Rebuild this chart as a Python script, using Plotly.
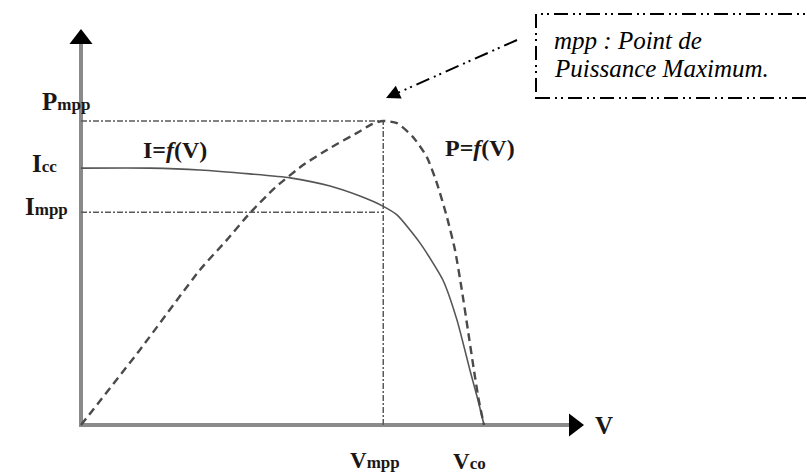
import plotly.graph_objects as go

# --- data (arbitrary units) ---
# I = f(V), solid curve
V_I = [0.0, 1.71, 2.95, 4.19, 5.19, 6.18, 6.92, 7.49, 7.84, 8.41, 8.98, 9.33, 9.65, 9.85, 10.0]
I_VALS = [8.45, 8.45, 8.39, 8.26, 8.13, 7.86, 7.53, 7.20, 6.91, 5.99, 4.77, 3.45, 1.81, 0.82, 0.0]

# P = f(V), dashed curve
V_P = [0.0, 1.46, 2.95, 3.62, 4.19, 4.81, 5.51, 6.18, 6.85, 7.22, 7.49, 7.84, 8.24,
       8.58, 8.83, 9.08, 9.28, 9.45, 9.60, 9.75, 9.87, 10.0]
P_VALS = [0.0, 2.47, 5.10, 6.09, 6.97, 7.80, 8.55, 9.11, 9.61, 9.90, 10.0, 9.93, 9.47,
          8.82, 7.96, 6.84, 5.76, 4.44, 3.13, 1.81, 0.82, 0.0]

V_MPP = 7.5
P_MPP = 10.0
I_MPP = 7.0


# pixel -> data helpers for decorations (plot area = whole figure)
def dx(p):
    return (p - 81) / 40.3


def dy(p):
    return (425 - p) / 30.4


INK = "#1c1714"
GREY = "#555555"
AXIS = "#8a8a8a"
SERIF = "Liberation Serif, Times New Roman, serif"

fig = go.Figure()

# axes drawn as lines with arrow heads
fig.add_trace(go.Scatter(x=[dx(79), dx(572)], y=[0, 0], mode="lines",
                         line=dict(color=AXIS, width=4), hoverinfo="skip"))
fig.add_trace(go.Scatter(x=[0, 0], y=[dy(427), dy(42)], mode="lines",
                         line=dict(color=AXIS, width=4), hoverinfo="skip"))
fig.add_trace(go.Scatter(
    x=[0], y=[dy(39)], mode="markers", hoverinfo="skip",
    marker=dict(symbol="triangle-up", size=20, color="black"),
))
fig.add_trace(go.Scatter(
    x=[dx(574)], y=[0], mode="markers", hoverinfo="skip",
    marker=dict(symbol="triangle-right", size=20, color="black"),
))

# guide lines at the maximum power point
ref = dict(color="#5a5a5a", width=1.5, dash="6px,2px,2px,2px")
fig.add_trace(go.Scatter(x=[0, V_MPP], y=[P_MPP, P_MPP], mode="lines", line=ref, hoverinfo="skip"))
fig.add_trace(go.Scatter(x=[0, V_MPP], y=[I_MPP, I_MPP], mode="lines", line=ref, hoverinfo="skip"))
fig.add_trace(go.Scatter(x=[V_MPP, V_MPP], y=[0, P_MPP], mode="lines", line=ref, hoverinfo="skip"))

# curves
fig.add_trace(go.Scatter(
    x=V_I, y=I_VALS, mode="lines", name="I=f(V)",
    line=dict(color=GREY, width=1.6, shape="spline", smoothing=0.6),
))
fig.add_trace(go.Scatter(
    x=V_P, y=P_VALS, mode="lines", name="P=f(V)",
    line=dict(color="#4a4a4a", width=2.4, dash="8px,5px", shape="spline", smoothing=0.6),
))


# text labels
def lab(text, x, y, size=25, xanchor="center", color=INK):
    fig.add_annotation(
        x=dx(x), y=dy(y), text=text, showarrow=False, xanchor=xanchor, yanchor="middle",
        font=dict(family=SERIF, size=size, color=color), borderpad=0,
    )


sub = '<span style="font-size:17px">{}</span>'
lab("<b>P" + sub.format("mpp") + "</b>", 41, 101, xanchor="left")
lab("<b>I" + sub.format("cc") + "</b>", 31, 163, xanchor="left")
lab("<b>I" + sub.format("mpp") + "</b>", 24, 206, xanchor="left")
lab("<b>I=<i>f</i>(V)</b>", 175, 150, size=24)
lab("<b>P=<i>f</i>(V)</b>", 480, 148, size=24)
lab("<b>V</b>", 604, 425, size=25)
lab("<b>V" + sub.format("mpp") + "</b>", 375, 460, size=23)
lab("<b>V" + sub.format("co") + "</b>", 469, 461, size=23)

# note box
lab("<i>mpp : Point de</i>", 553, 40, size=25, xanchor="left", color="black")
lab("<i>Puissance Maximum.</i>", 553, 68, size=25, xanchor="left", color="black")

box_line = dict(color="black", width=2, dash="14px,5px,2px,4px,2px,5px")
fig.add_shape(type="rect", x0=dx(536), x1=dx(830), y0=dy(98), y1=dy(14), line=box_line)
fig.add_shape(type="line", x0=dx(517), y0=dy(40), x1=dx(393), y1=dy(95), line=box_line)
fig.add_annotation(
    x=dx(386), y=dy(98), ax=13, ay=-6, text="", showarrow=True,
    arrowhead=2, arrowsize=1.4, arrowwidth=2, arrowcolor="black",
)

axis = dict(showgrid=False, showticklabels=False, ticks="", showline=False, zeroline=False)
fig.update_xaxes(range=[dx(0), dx(807)], **axis)
fig.update_yaxes(range=[dy(474), dy(0)], **axis)

fig.update_layout(
    width=807, height=474, autosize=False,
    margin=dict(l=0, r=0, t=0, b=0),
    paper_bgcolor="white", plot_bgcolor="white",
    showlegend=False,
)

fig.write_html("out.html", config={"displayModeBar": False},
               post_script="document.body.style.margin='0px';")
